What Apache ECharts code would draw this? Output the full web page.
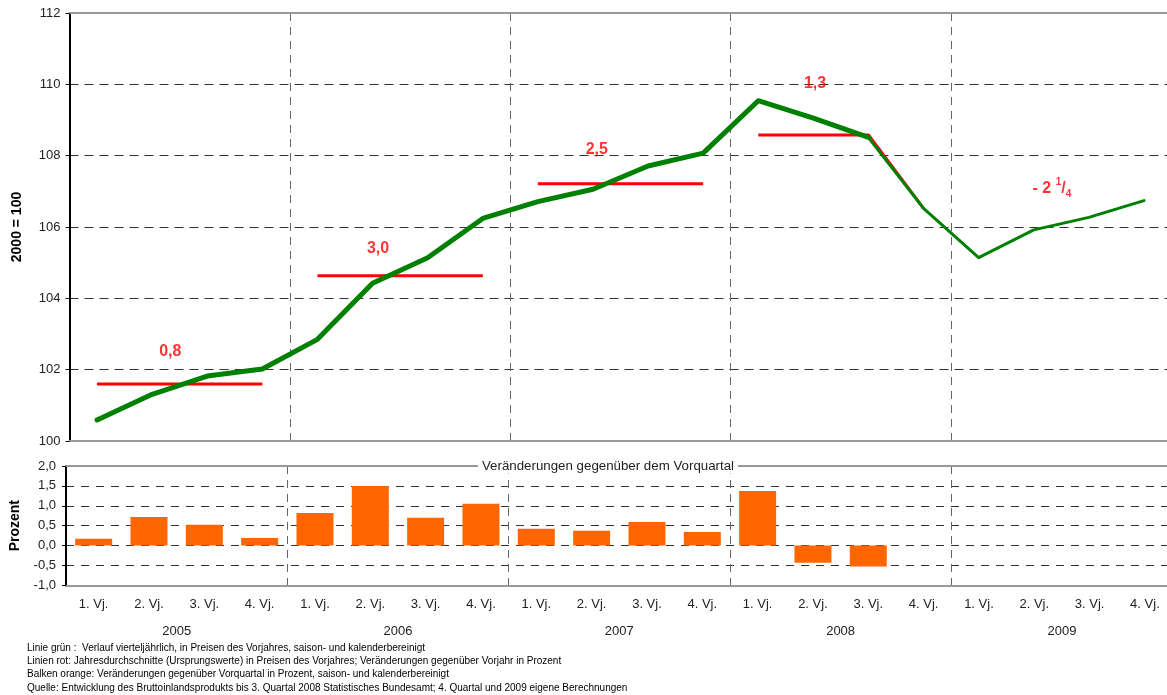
<!DOCTYPE html>
<html>
<head>
<meta charset="utf-8">
<script src="https://cdn.jsdelivr.net/npm/echarts@6/dist/echarts.min.js"></script>
<style>
html,body{margin:0;padding:0;background:#fff;}
#chart{width:1167px;height:695px;}
</style>
</head>
<body>
<div id="chart"></div>
<script>
// ---------- data ----------
const years = ['2005', '2006', '2007', '2008', '2009'];
const quarterLabels = ['1. Vj.', '2. Vj.', '3. Vj.', '4. Vj.'];
const categories = years.flatMap(y => quarterLabels.map(q => y + '|' + q));

// GDP index, 2000 = 100 (quarterly, seasonally adjusted)
const gdpIndex = [
  100.59, 101.31, 101.82, 102.02,
  102.85, 104.42, 105.14, 106.24,
  106.71, 107.06, 107.71, 108.07,
  109.54, 109.05, 108.51, 106.52,
  105.14, 105.92, 106.27, 106.74
];
const forecastStart = 14; // thin line from here on

// annual averages (red lines), per year
const annualAvg = [101.60, 104.63, 107.21, 108.58, null];
// annual change labels
const annualChangeLabels = ['0,8', '3,0', '2,5', '1,3', '- 2 1/4'];
// label anchor positions (quarter index, index value)
const labelX = [1.33, 5.10, 9.07, 13.03, 17.33];
const labelY = [102.52, 105.40, 108.18, 110.01, 107.09];

// change vs previous quarter (bars, %)
const qoqChange = [
  0.17, 0.72, 0.52, 0.19,
  0.82, 1.50, 0.70, 1.05,
  0.42, 0.37, 0.59, 0.34,
  1.37, -0.43, -0.53, null,
  null, null, null, null
];

const footnotes = [
  'Linie grün :  Verlauf vierteljährlich, in Preisen des Vorjahres, saison- und kalenderbereinigt',
  'Linien rot: Jahresdurchschnitte (Ursprungswerte) in Preisen des Vorjahres; Veränderungen gegenüber Vorjahr in Prozent',
  'Balken orange: Veränderungen gegenüber Vorquartal in Prozent, saison- und kalenderbereinigt',
  'Quelle: Entwicklung des Bruttoinlandsprodukts bis 3. Quartal 2008 Statistisches Bundesamt; 4. Quartal und 2009 eigene Berechnungen'
];

// ---------- build ----------
const FONT = '"Liberation Sans", Arial, sans-serif';
const GREEN = '#008000', RED = '#FF0000', ORANGE = '#FF6600';
const yearDivider = (i) => i > 0 && i % 4 === 0;

const redSeries = annualAvg.map((v, y) => {
  if (v == null) return null;
  const data = categories.map((c, i) => (Math.floor(i / 4) === y ? v : null));
  if (y === 3) data[15] = gdpIndex[15]; // 2008 line runs down to the 4th quarter
  return {
    type: 'line', xAxisIndex: 0, yAxisIndex: 0, data: data,
    symbol: 'none', silent: true, z: 3,
    lineStyle: { color: RED, width: 3, cap: 'butt' }
  };
}).filter(Boolean);

const thick = gdpIndex.map((v, i) => (i <= forecastStart ? v : null));
const thin = gdpIndex.map((v, i) => (i >= forecastStart ? v : null));

const labelData = annualChangeLabels.map((t, i) => [labelX[i], labelY[i], t]);

const chart = echarts.init(document.getElementById('chart'), null, { renderer: 'canvas' });

const option = {
  animation: false,
  backgroundColor: '#fff',
  textStyle: { fontFamily: FONT },
  grid: [
    { left: 69.5, right: -4.5, top: 13, bottom: 254, containLabel: false, outerBoundsMode: 'none' },
    { left: 66, right: -5.6, top: 466, bottom: 109.7, containLabel: false, outerBoundsMode: 'none' }
  ],
  xAxis: [
    { // 0: top grid quarters
      type: 'category', gridIndex: 0, data: categories, boundaryGap: true, position: 'bottom',
      axisLine: { onZero: false, lineStyle: { color: '#999', width: 2 } },
      axisTick: { show: false }, axisLabel: { show: false },
      splitLine: { show: true, interval: yearDivider, lineStyle: { color: '#666', type: [8, 6], width: 1 } }
    },
    { // 1: top grid helper value axis (top border + label anchoring)
      type: 'value', gridIndex: 0, min: -0.5, max: 19.5, position: 'top',
      axisLine: { show: true, onZero: false, lineStyle: { color: '#999', width: 2 } },
      axisTick: { show: false }, axisLabel: { show: false }, splitLine: { show: false }
    },
    { // 2: bottom grid quarters
      type: 'category', gridIndex: 1, data: categories, boundaryGap: true, position: 'bottom',
      axisLine: { onZero: false, lineStyle: { color: '#999', width: 2 } },
      axisTick: { show: false },
      axisLabel: { show: true, interval: 0, margin: 13, color: '#222', fontSize: 13, fontFamily: FONT,
        formatter: (v) => v.split('|')[1] },
      splitLine: { show: true, interval: yearDivider, lineStyle: { color: '#666', type: [8, 6], width: 1 } }
    },
    { // 3: bottom grid years
      type: 'category', gridIndex: 1, data: years, boundaryGap: true, position: 'bottom',
      axisLine: { show: false, onZero: false }, axisTick: { show: false },
      axisLabel: { show: true, interval: 0, margin: 40, color: '#222', fontSize: 13, fontFamily: FONT },
      splitLine: { show: false }
    },
    { // 4: bottom grid top border
      type: 'category', gridIndex: 1, data: categories, position: 'top',
      axisLine: { show: true, onZero: false, lineStyle: { color: '#999', width: 2 } },
      axisTick: { show: false }, axisLabel: { show: false }, splitLine: { show: false }
    }
  ],
  yAxis: [
    {
      type: 'value', gridIndex: 0, min: 100, max: 112, interval: 2,
      name: '2000 = 100', nameLocation: 'middle', nameGap: 45, nameRotate: 90, nameMoveOverlap: false,
      nameTextStyle: { fontSize: 14, fontWeight: 'bold', color: '#000', fontFamily: FONT },
      axisLine: { show: true, onZero: false, lineStyle: { color: '#000', width: 2 } },
      axisTick: { show: true, length: 4, inside: false, lineStyle: { color: '#000', width: 1 } },
      axisLabel: { margin: 9, color: '#222', fontSize: 13, fontFamily: FONT },
      splitLine: { show: true, showMinLine: false, showMaxLine: false,
        lineStyle: { color: '#333', type: [9, 6], width: 1 } }
    },
    {
      type: 'value', gridIndex: 1, min: -1, max: 2, interval: 0.5,
      name: 'Prozent', nameLocation: 'middle', nameGap: 44, nameRotate: 90, nameMoveOverlap: false,
      nameTextStyle: { fontSize: 14, fontWeight: 'bold', color: '#000', fontFamily: FONT },
      axisLine: { show: true, onZero: false, lineStyle: { color: '#000', width: 2 } },
      axisTick: { show: true, length: 4, inside: false, lineStyle: { color: '#000', width: 1 } },
      axisLabel: { margin: 10, color: '#222', fontSize: 13, fontFamily: FONT,
        formatter: (v) => v.toFixed(1).replace('.', ',') },
      splitLine: { show: true, showMinLine: false, showMaxLine: false,
        lineStyle: { color: '#333', type: [8, 7], width: 1 } }
    }
  ],
  series: [
    {
      type: 'bar', xAxisIndex: 2, yAxisIndex: 1, data: qoqChange, barWidth: 37,
      itemStyle: { color: ORANGE }, silent: true, z: 2
    },
    ...redSeries,
    {
      type: 'line', xAxisIndex: 0, yAxisIndex: 0, data: thick, symbol: 'none', silent: true, z: 4,
      lineStyle: { color: GREEN, width: 5, join: 'round', cap: 'round' }
    },
    {
      type: 'line', xAxisIndex: 0, yAxisIndex: 0, data: thin, symbol: 'none', silent: true, z: 4,
      lineStyle: { color: GREEN, width: 3, join: 'round', cap: 'round' }
    },
    {
      type: 'scatter', xAxisIndex: 1, yAxisIndex: 0, data: labelData, symbolSize: 1, silent: true, z: 5,
      itemStyle: { color: 'rgba(0,0,0,0)' },
      label: {
        show: true, position: 'inside', color: RED, fontSize: 16, fontWeight: 'bold', fontFamily: FONT,
        formatter: (p) => {
          const t = p.data[2];
          const m = t.match(/^(.*?)(\d+)\/(\d+)$/);
          if (!m) return t;
          return '{m|' + m[1] + '}{sup|' + m[2] + '}{m|/}{sub|' + m[3] + '}';
        },
        rich: {
          m: { color: RED, fontSize: 16, fontWeight: 'bold', fontFamily: FONT, lineHeight: 22 },
          sup: { color: RED, fontSize: 10, fontWeight: 'bold', fontFamily: FONT, lineHeight: 10, verticalAlign: 'top' },
          sub: { color: RED, fontSize: 10, fontWeight: 'bold', fontFamily: FONT, lineHeight: 10, verticalAlign: 'bottom' }
        }
      }
    }
  ],
  graphic: [
    {
      type: 'text', x: 608, y: 466, z: 100, silent: true,
      style: {
        text: 'Veränderungen gegenüber dem Vorquartal',
        font: '13.3px ' + FONT, fill: '#222',
        align: 'center', verticalAlign: 'middle', textAlign: 'center', textVerticalAlign: 'middle',
        backgroundColor: '#fff', padding: [1, 4, 1, 4]
      }
    },
    ...footnotes.map((t, i) => ({
      type: 'text', x: 27, y: 648 + i * 13.3, z: 100, silent: true,
      style: {
        text: t, font: '10px ' + FONT, fill: '#000',
        align: 'left', verticalAlign: 'middle', textAlign: 'left', textVerticalAlign: 'middle'
      }
    }))
  ]
};

chart.setOption(option);
</script>
</body>
</html>
